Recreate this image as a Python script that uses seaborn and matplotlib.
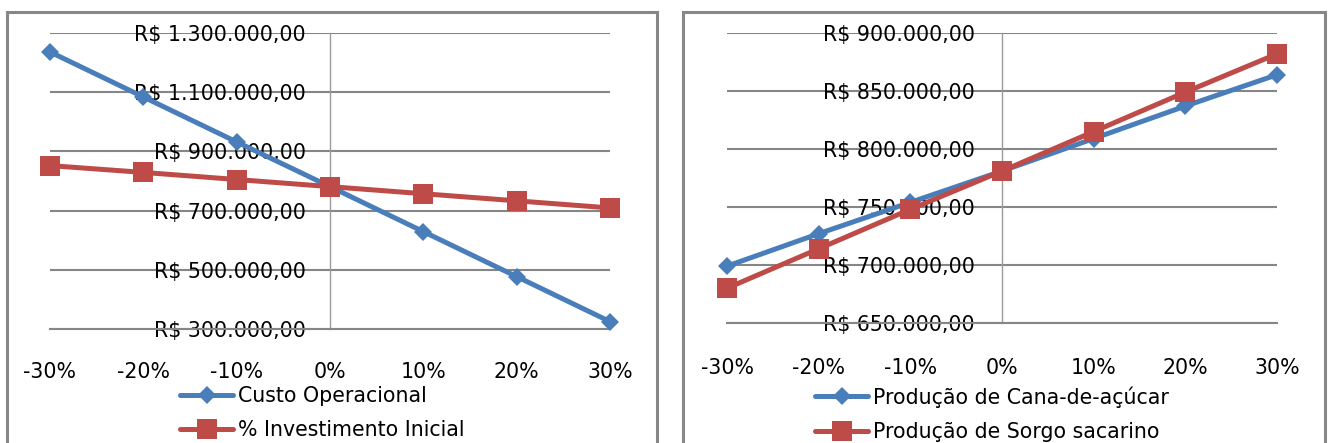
import pandas as pd
import matplotlib.pyplot as plt
import seaborn as sns
from matplotlib.patches import Rectangle

# dados (variacao em %)
variacao = [-30, -20, -10, 0, 10, 20, 30]
rotulos_x = ['-30%', '-20%', '-10%', '0%', '10%', '20%', '30%']

custo_operacional = [1236000, 1084000, 932000, 781000, 629000, 477000, 325000]
investimento_inicial = [852000, 829000, 805000, 781000, 757000, 733000, 709000]

cana = [699000, 727000, 754000, 781000, 809000, 837000, 864000]
sorgo = [680000, 714000, 748000, 781000, 815000, 849000, 882000]

ticks_esq = [300000, 500000, 700000, 900000, 1100000, 1300000]
rotulos_esq = ['R$ 300.000,00', 'R$ 500.000,00', 'R$ 700.000,00',
               'R$ 900.000,00', 'R$ 1.100.000,00', 'R$ 1.300.000,00']
ticks_dir = [650000, 700000, 750000, 800000, 850000, 900000]
rotulos_dir = ['R$ 650.000,00', 'R$ 700.000,00', 'R$ 750.000,00',
               'R$ 800.000,00', 'R$ 850.000,00', 'R$ 900.000,00']

azul = '#4A7EBB'
vermelho = '#BE4B48'
cinza = '#868686'

sns.set_style('white')
plt.rcParams['font.family'] = ['DejaVu Sans']
plt.rcParams['text.color'] = 'black'

W, H = 1328, 443
fig = plt.figure(figsize=(W / 100, H / 100), dpi=100)


def eixo_px(left, top, right, bottom):
    return fig.add_axes([left / W, 1 - bottom / H, (right - left) / W, (bottom - top) / H])


def desenha(ax, s1, s2, nome1, nome2, ticks, rotulos, ypad, xpad, leg_x):
    df = pd.DataFrame({
        'variacao': variacao * 2,
        'valor': s1 + s2,
        'serie': [nome1] * len(variacao) + [nome2] * len(variacao),
    })
    sns.lineplot(data=df, x='variacao', y='valor', hue='serie', style='serie',
                 markers=['D', 's'], dashes=False, palette=[azul, vermelho],
                 linewidth=3.6, markeredgewidth=0, errorbar=None,
                 legend=False, clip_on=False, ax=ax)
    ax.lines[0].set_markersize(9.2)
    ax.lines[1].set_markersize(14.4)
    for ln in ax.lines:
        ln.set_zorder(3)

    ax.set_xlim(-30, 30)
    ax.set_ylim(ticks[0], ticks[-1])
    ax.set_xticks(variacao, rotulos_x)
    ax.set_yticks(ticks, rotulos)
    ax.set_xlabel('')
    ax.set_ylabel('')
    ax.set_facecolor('none')

    for s in ['top', 'right']:
        ax.spines[s].set_visible(False)
    ax.spines['left'].set_position(('data', 0))
    ax.spines['left'].set_color('#9a9a9a')
    ax.spines['left'].set_linewidth(1)
    ax.spines['bottom'].set_color(cinza)
    ax.spines['bottom'].set_linewidth(1.5)

    ax.yaxis.grid(True, color=cinza, linewidth=1.5)
    ax.xaxis.grid(False)
    ax.tick_params(axis='y', length=0, pad=ypad, labelsize=14.8, labelcolor='black')
    ax.tick_params(axis='x', length=5, width=1.5, color=cinza, direction='out',
                   pad=xpad, labelsize=14.8, labelcolor='black')

    ax.legend(ax.lines[:2], [nome1, nome2], loc='upper left',
              bbox_to_anchor=(leg_x / W, 1 - 386 / H), bbox_transform=fig.transFigure,
              frameon=False, fontsize=14.8, borderpad=0, borderaxespad=0,
              handlelength=2.6, handletextpad=0.2, labelspacing=0.7, numpoints=1,
              labelcolor='black')


ax1 = eixo_px(50, 33, 610, 329)
desenha(ax1, custo_operacional, investimento_inicial, 'Custo Operacional',
        '% Investimento Inicial', ticks_esq, rotulos_esq, 17.5, 18.5, 180)

ax2 = eixo_px(727, 33, 1277, 323)
desenha(ax2, cana, sorgo, 'Produção de Cana-de-açúcar',
        'Produção de Sorgo sacarino', ticks_dir, rotulos_dir, 19.5, 20, 815)

# molduras das duas areas de grafico
for x0, x1 in [(7, 657), (683, 1325)]:
    fig.patches.append(Rectangle((x0 / W, -0.1), (x1 - x0) / W, 1 - 12 / H + 0.1,
                                 transform=fig.transFigure, fill=False,
                                 edgecolor='#878787', linewidth=2.2))

fig.savefig('out.png', dpi=100)
